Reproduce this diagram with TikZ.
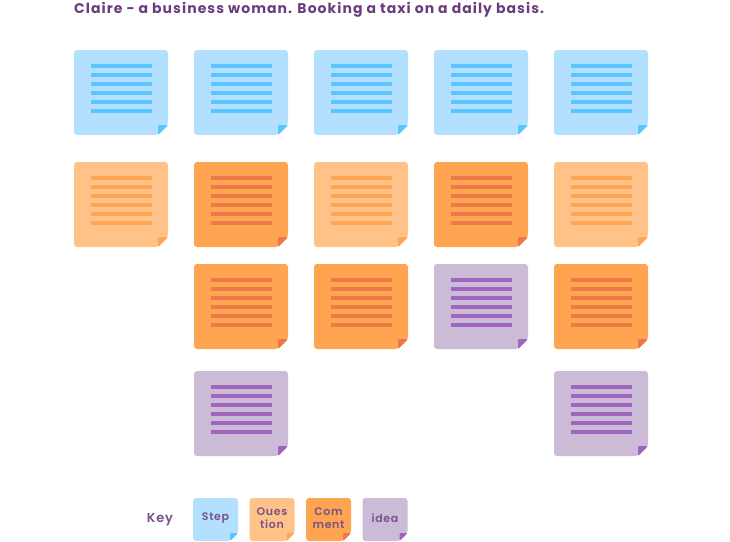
\documentclass[tikz,border=0pt]{standalone}
\usepackage{fontspec}
\setmainfont{Poppins}
\newfontfamily\titlefont{Poppins}[UprightFont=* Bold, LetterSpace=7.5]
\newfontfamily\keyfont{Poppins}[UprightFont=* SemiBold, LetterSpace=6]
\definecolor{bluefill}{HTML}{B3E0FF}
\definecolor{blueline}{HTML}{5BC5FF}
\definecolor{lofill}{HTML}{FFC38A}
\definecolor{loline}{HTML}{FFA652}
\definecolor{dofill}{HTML}{FFA552}
\definecolor{doline}{HTML}{EC7946}
\definecolor{pufill}{HTML}{CCBBD6}
\definecolor{puline}{HTML}{A065BE}
\definecolor{titlecol}{HTML}{6A3D7E}
\definecolor{keycol}{HTML}{7A5289}
\tikzset{
  notebox/.style={inner sep=0pt, minimum width=94pt, minimum height=85pt},
  keybox/.style={inner sep=0pt, minimum width=45pt, minimum height=44pt, font=\keyfont\fontsize{11}{13}\selectfont, text=keycol, align=center},
}
% name, x, y, fill, line
\newcommand\snote[5]{%
  \fill[#4, rounded corners=3pt] (#2,#3) -- (#2+94,#3) -- (#2+94,#3+75) -- (#2+84,#3+85) -- (#2,#3+85) -- cycle;
  \fill[#5, rounded corners=1pt] (#2+84,#3+75) -- (#2+94,#3+75) -- (#2+84,#3+85) -- cycle;
  \foreach \k in {0,...,5} {\fill[#5] (#2+17,#3+14.3+\k*9) rectangle (#2+77.5,#3+17.9+\k*9);}
  \node[notebox] (#1) at (#2+47,#3+42.5) {};
}
% name, x, y, fill, line, text
\newcommand\knote[6]{%
  \fill[#4, rounded corners=3pt] (#2,#3) -- (#2+45,#3) -- (#2+45,#3+35) -- (#2+37,#3+43) -- (#2,#3+43) -- cycle;
  \fill[#5, rounded corners=1pt] (#2+37,#3+35) -- (#2+45,#3+35) -- (#2+37,#3+43) -- cycle;
  \node[keybox] (#1) at (#2+22.5,#3+20.5) {#6};
}
\begin{document}
\begin{tikzpicture}[x=1pt,y=-1pt]
\useasboundingbox (0,0) rectangle (730,541);
\node[anchor=base west, inner sep=0pt, text=titlecol, font=\titlefont\fontsize{14}{16}\selectfont] (title) at (74,13) {Claire - a business woman. Booking a taxi on a daily basis.};
% row 1 steps
\snote{s1}{74}{50}{bluefill}{blueline}
\snote{s2}{194}{50}{bluefill}{blueline}
\snote{s3}{314}{50}{bluefill}{blueline}
\snote{s4}{434}{50}{bluefill}{blueline}
\snote{s5}{554}{50}{bluefill}{blueline}
% row 2
\snote{a1}{74}{162}{lofill}{loline}
\snote{a2}{194}{162}{dofill}{doline}
\snote{a3}{314}{162}{lofill}{loline}
\snote{a4}{434}{162}{dofill}{doline}
\snote{a5}{554}{162}{lofill}{loline}
% row 3
\snote{b2}{194}{264}{dofill}{doline}
\snote{b3}{314}{264}{dofill}{doline}
\snote{b4}{434}{264}{pufill}{puline}
\snote{b5}{554}{264}{dofill}{doline}
% row 4
\snote{c2}{194}{371}{pufill}{puline}
\snote{c5}{554}{371}{pufill}{puline}
% key
\node[anchor=center, inner sep=0pt, text=keycol, font=\keyfont\fontsize{13}{15}\selectfont] (key) at (160,520) {Key};
\knote{k1}{193}{498}{bluefill}{blueline}{Step}
\knote{k2}{249.5}{498}{lofill}{loline}{Oues\\tion}
\knote{k3}{306}{498}{dofill}{doline}{Com\\ment}
\knote{k4}{362.5}{498}{pufill}{puline}{idea}
\end{tikzpicture}
\end{document}
